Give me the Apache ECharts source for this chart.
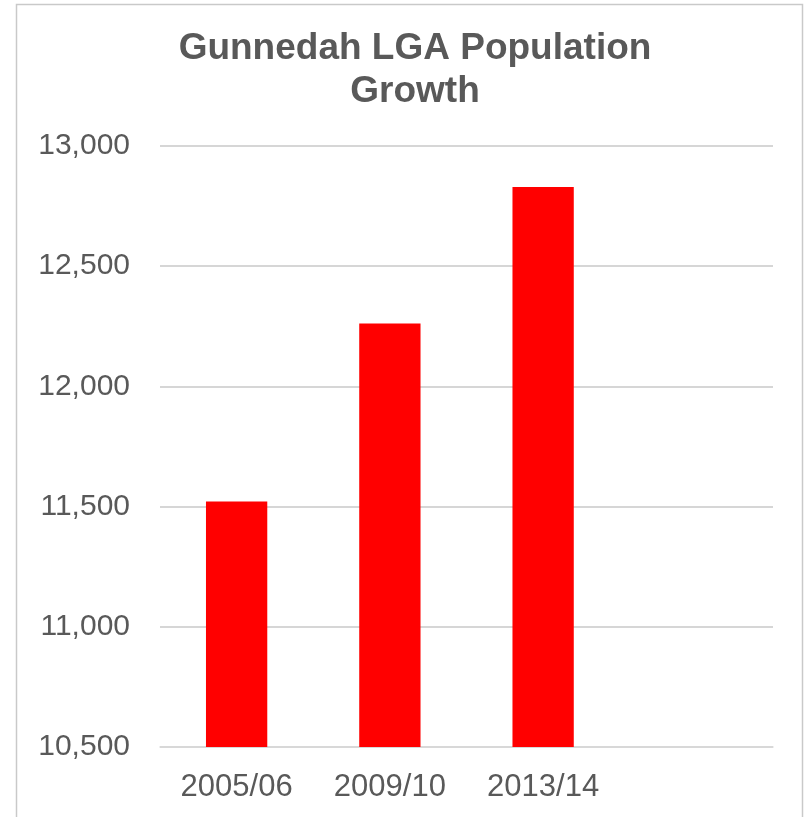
<!DOCTYPE html>
<html>
<head>
<meta charset="utf-8">
<script src="https://cdn.jsdelivr.net/npm/echarts@6/dist/echarts.min.js"></script>
<style>
html,body{margin:0;padding:0;background:#fff;}
#chart{width:807px;height:817px;}
</style>
</head>
<body>
<div id="chart"></div>
<script>
var titleText = 'Gunnedah LGA Population\nGrowth';
var categories = ['2005/06', '2009/10', '2013/14', ''];
var populationValues = [11521, 12262, 12829, null];
var yMin = 10500, yMax = 13000, yStep = 500;

var chart = echarts.init(document.getElementById('chart'), null, {renderer: 'canvas'});
chart.setOption({
  animation: false,
  backgroundColor: '#ffffff',
  graphic: [{
    type: 'rect',
    shape: {x: 16.5, y: 4.5, width: 786, height: 830},
    style: {fill: 'none', stroke: '#c9c9c9', lineWidth: 1.5},
    silent: true
  }],
  title: {
    text: titleText,
    left: 410,
    textAlign: 'center',
    top: 22,
    textStyle: {
      fontFamily: 'Liberation Sans, Arial, sans-serif',
      fontSize: 37,
      fontWeight: 'bold',
      color: '#595959',
      lineHeight: 43
    }
  },
  grid: {left: 160, right: 34, top: 146, bottom: 70, containLabel: false},
  xAxis: {
    type: 'category',
    data: categories,
    axisLine: {show: true, lineStyle: {color: '#d9d9d9', width: 1.5}},
    axisTick: {show: false},
    axisLabel: {
      margin: 25,
      fontFamily: 'Liberation Sans, Arial, sans-serif',
      fontSize: 31,
      color: '#595959'
    }
  },
  yAxis: {
    type: 'value',
    min: yMin,
    max: yMax,
    interval: yStep,
    axisLine: {show: false},
    axisTick: {show: false},
    splitLine: {lineStyle: {color: '#c8c8c8', width: 1.5}},
    axisLabel: {
      margin: 30,
      fontFamily: 'Liberation Sans, Arial, sans-serif',
      fontSize: 30,
      color: '#595959',
      formatter: function (v) { return v.toLocaleString('en-US'); }
    }
  },
  series: [{
    type: 'bar',
    data: populationValues,
    barWidth: '40%',
    itemStyle: {color: '#ff0000'}
  }]
});
</script>
</body>
</html>
